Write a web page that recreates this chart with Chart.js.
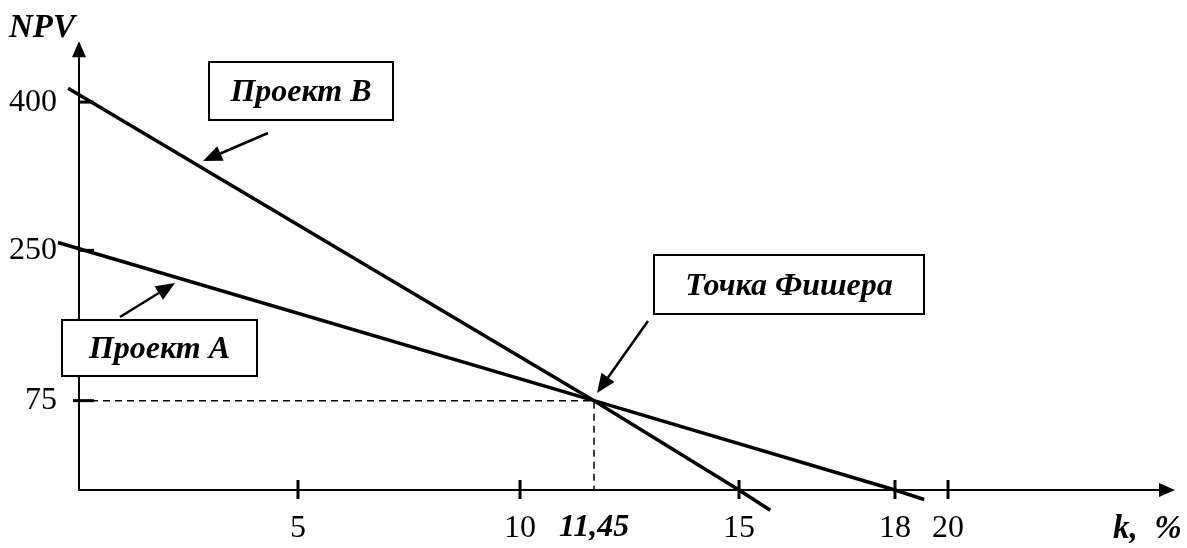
<!DOCTYPE html>
<html lang="ru">
<head>
    <meta charset="UTF-8">
    <title>Точка Фишера</title>
    <script src="https://cdn.jsdelivr.net/npm/chart.js"></script>
    <style>
        body {
            margin: 0;
            background: white;
        }
        .chart-container {
            width: 1187px;
            height: 548px;
        }
    </style>
</head>
<body>
    <div class="chart-container">
        <canvas id="myChart"></canvas>
    </div>
    <script>
        // values
        const kTicks = [5, 10, 11.45, 15, 18, 20];
        const npvTicks = [75, 250, 400];

        const kA = [-0.48, 11.45, 18, 19.1];
        const npvA = [258, 75, 0, -8];

        const kB = [-0.25, 11.45, 15, 15.6];
        const npvB = [414, 75, 0, -17];

        const fisherK = 11.45;
        const fisherNpv = 75;

        const FONT = '"Liberation Serif", "Times New Roman", serif';

        // the drawing is a sketch, its axes are not evenly spaced,
        // so each scale maps value -> share of the axis through these anchors
        const anchors = {
            x: [[0, 0], [5, 0.1998], [10, 0.4024], [11.45, 0.4699], [15, 0.6022], [18, 0.7445], [20, 0.7929], [25, 0.9936]],
            y: [[0, 0], [75, 0.1991], [250, 0.5339], [400, 0.8643], [460, 0.9963]]
        };

        function interp(list, v, from, to) {
            let i = 1;
            while (i < list.length - 1 && v > list[i][from]) i++;
            const a = list[i - 1], b = list[i];
            return a[to] + (v - a[from]) * (b[to] - a[to]) / (b[from] - a[from]);
        }

        class PiecewiseScale extends Chart.LinearScale {
            getPixelForValue(value) {
                if (value === null || value === undefined) return NaN;
                return this.getPixelForDecimal(interp(anchors[this.id], value, 0, 1));
            }
            getValueForPixel(pixel) {
                return interp(anchors[this.id], this.getDecimalForPixel(pixel), 1, 0);
            }
        }
        PiecewiseScale.id = 'piecewise';
        PiecewiseScale.defaults = Chart.LinearScale.defaults;
        Chart.register(PiecewiseScale);

        const notes = [
            { text: 'Проект В', box: [209, 62, 184, 58], from: [268, 133], to: [203, 161] },
            { text: 'Проект А', box: [62, 320, 195, 56], from: [120, 317], to: [175, 283] },
            { text: 'Точка Фишера', box: [654, 255, 270, 59], from: [648, 321], to: [597, 393] }
        ];

        function arrow(ctx, x1, y1, x2, y2, len, half) {
            const ang = Math.atan2(y2 - y1, x2 - x1);
            const bx = x2 - len * Math.cos(ang), by = y2 - len * Math.sin(ang);
            ctx.beginPath();
            ctx.moveTo(x1, y1);
            ctx.lineTo(bx, by);
            ctx.stroke();
            ctx.beginPath();
            ctx.moveTo(x2, y2);
            ctx.lineTo(bx + half * Math.sin(ang), by - half * Math.cos(ang));
            ctx.lineTo(bx - half * Math.sin(ang), by + half * Math.cos(ang));
            ctx.closePath();
            ctx.fill();
        }

        const schemePlugin = {
            id: 'scheme',
            beforeDatasetsDraw(chart) {
                const { ctx, chartArea: area, scales: { x, y } } = chart;
                const x0 = x.getPixelForValue(0), y0 = y.getPixelForValue(0);
                ctx.save();
                ctx.strokeStyle = '#000';
                ctx.fillStyle = '#000';
                ctx.lineWidth = 2;
                arrow(ctx, x0, y0 + 1, x0, area.top, 16, 7);
                arrow(ctx, x0 - 1, y0, area.right, y0, 16, 7);

                ctx.lineWidth = 3;
                kTicks.filter(v => v !== fisherK).forEach(v => {
                    const px = x.getPixelForValue(v);
                    ctx.beginPath();
                    ctx.moveTo(px, y0 - 10);
                    ctx.lineTo(px, y0 + 9);
                    ctx.stroke();
                });
                npvTicks.forEach(v => {
                    const py = y.getPixelForValue(v);
                    ctx.beginPath();
                    ctx.moveTo(x0 - (v === fisherNpv ? 6 : 0), py);
                    ctx.lineTo(x0 + 15, py);
                    ctx.stroke();
                });

                ctx.font = 'italic bold 33px ' + FONT;
                ctx.textBaseline = 'alphabetic';
                ctx.textAlign = 'left';
                ctx.fillText('NPV', 9, 37);
                ctx.fillText('k,  %', 1113, 538);
                ctx.restore();
            },
            afterDatasetsDraw(chart) {
                const ctx = chart.ctx;
                ctx.save();
                ctx.strokeStyle = '#000';
                ctx.fillStyle = '#000';
                notes.forEach(n => {
                    const [bx, by, bw, bh] = n.box;
                    ctx.fillStyle = '#fff';
                    ctx.fillRect(bx, by, bw, bh);
                    ctx.lineWidth = 2;
                    ctx.strokeRect(bx, by, bw, bh);
                    ctx.fillStyle = '#000';
                    ctx.font = 'italic bold 32px ' + FONT;
                    ctx.textAlign = 'center';
                    ctx.textBaseline = 'middle';
                    ctx.fillText(n.text, bx + bw / 2, by + bh / 2 + 2);
                    ctx.lineWidth = 2.5;
                    arrow(ctx, n.from[0], n.from[1], n.to[0], n.to[1], 19, 8);
                });
                ctx.restore();
            }
        };

        const tickFont = ctx => ({
            family: FONT,
            size: 32,
            style: ctx.tick && ctx.tick.value === fisherK ? 'italic' : 'normal',
            weight: ctx.tick && ctx.tick.value === fisherK ? 'bold' : 'normal'
        });

        new Chart(document.getElementById('myChart'), {
            type: 'scatter',
            data: {
                datasets: [
                    {
                        label: 'Точка Фишера',
                        data: [{ x: 0, y: fisherNpv }, { x: fisherK, y: fisherNpv }, { x: fisherK, y: 0 }],
                        showLine: true,
                        borderColor: '#000',
                        borderWidth: 1.5,
                        borderDash: [7, 5],
                        pointRadius: 0,
                        clip: false
                    },
                    {
                        label: 'Проект А',
                        data: kA.map((k, i) => ({ x: k, y: npvA[i] })),
                        showLine: true,
                        borderColor: '#000',
                        borderWidth: 3.5,
                        pointRadius: 0,
                        clip: false
                    },
                    {
                        label: 'Проект В',
                        data: kB.map((k, i) => ({ x: k, y: npvB[i] })),
                        showLine: true,
                        borderColor: '#000',
                        borderWidth: 3.5,
                        pointRadius: 0,
                        clip: false
                    }
                ]
            },
            options: {
                responsive: true,
                maintainAspectRatio: false,
                animation: false,
                layout: { padding: { top: 33, right: 12, left: 0, bottom: 0 } },
                plugins: {
                    legend: { display: false },
                    tooltip: { enabled: false }
                },
                scales: {
                    x: {
                        type: 'piecewise',
                        min: 0,
                        max: 25,
                        grid: { display: false, drawTicks: false },
                        border: { display: false },
                        afterBuildTicks: s => { s.ticks = kTicks.map(v => ({ value: v })); },
                        afterFit: s => { s.height = 58; },
                        ticks: {
                            autoSkip: false,
                            maxRotation: 0,
                            padding: 19,
                            color: '#000',
                            font: tickFont,
                            callback: v => String(v).replace('.', ',')
                        }
                    },
                    y: {
                        type: 'piecewise',
                        min: 0,
                        max: 460,
                        grid: { display: false, drawTicks: false },
                        border: { display: false },
                        afterBuildTicks: s => { s.ticks = npvTicks.map(v => ({ value: v })); },
                        afterFit: s => { s.width = 79; },
                        ticks: {
                            autoSkip: false,
                            padding: 22,
                            color: '#000',
                            font: tickFont,
                            callback: v => String(v)
                        }
                    }
                }
            },
            plugins: [schemePlugin]
        });
    </script>
</body>
</html>
